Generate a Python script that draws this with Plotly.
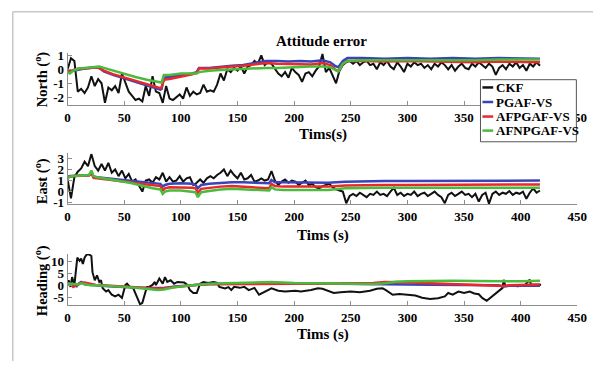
import plotly.graph_objects as go

# ---------------- data ----------------
series_names = ["CKF", "PGAF-VS", "AFPGAF-VS", "AFNPGAF-VS"]
series_colors = ["#111111", "#3a44b8", "#e8282a", "#4cba3c"]
x_ticks = [0, 50, 100, 150, 200, 250, 300, 350, 400, 450]
x_tick_text = ["0", "50", "100", "150", "200", "250", "300", "350", "400", "450"]

# CKF, sampled every 3 s
ckf_step = 3
north_ckf = [0.0, 0.8, 0.6, -1.6, -1.4, -1.7, -1.3, -0.5, -1.2, -0.7,
             -1.0, -2.4, -1.3, -1.5, -1.2, -1.7, -0.3, -1.0, -1.6, -1.9,
             -2.2, -2.1, -2.3, -1.2, -1.9, -0.5, -1.6, -1.7, -2.4, -1.2,
             -2.1, -2.2, -2.0, -1.8, -2.1, -1.3, -1.9, -1.6, -1.8, -1.7,
             -1.1, -1.6, -1.5, -1.6, -1.1, -0.3, -0.8, 0.0, -0.2, 0.1,
             -0.1, 0.2, -0.3, 0.2, 0.3, 0.6, 0.4, 1.0, 0.3, 0.5,
             0.4, 0.0, -0.3, -0.5, -0.2, -0.6, 0.1, -0.2, -0.4, -0.9,
             -0.3, -0.2, -0.5, -0.1, 0.2, 1.1, -0.2, 0.1, -0.4, -1.0,
             -0.1, 0.3, 0.5, 0.6, 0.4, 0.6, 0.3, 0.5, 0.6, 0.3,
             0.4, 0.0, 0.5, 0.3, 0.6, 0.2, 0.0, 0.5, 0.2, -0.2,
             0.4, 0.2, 0.5, 0.3, 0.4, 0.1, 0.3, 0.0, 0.4, 0.2,
             0.5, 0.3, 0.0, 0.3, -0.1, 0.2, 0.4, 0.1, 0.0, 0.4,
             0.2, 0.5, 0.3, 0.1, 0.4, 0.2, -0.4, 0.1, 0.3, 0.0,
             0.4, 0.2, 0.5, 0.1, 0.3, -0.1, 0.4, 0.2, 0.5, 0.25]
east_ckf = [1.1, -0.6, 1.3, 1.8, 2.1, 2.7, 2.3, 3.4, 2.3, 1.9,
            2.5, 1.9, 2.6, 1.7, 2.0, 1.4, 1.9, 1.2, 1.6, 0.9,
            1.1, 0.5, 0.0, 1.0, 1.1, 0.8, 1.3, 1.1, 1.7, 0.9,
            1.3, 0.9, 1.0, 1.4, 0.9, 1.2, 1.3, 0.6, 0.8, 1.1,
            0.8, 1.2, 1.4, 1.2, 1.5, 1.7, 2.0, 1.4, 1.9, 1.5,
            1.2, 1.7, 1.1, 1.2, 1.5, 0.9, 1.0, 1.2, 1.0, 1.1,
            1.85, 1.0, 0.6, 0.9, 1.1, 0.8, 1.0, 0.9, 0.6, 0.8,
            1.0, 0.6, 0.7, 0.4, 0.3, 0.5, 0.6, 0.7, 0.4, 0.2,
            0.1, 0.0, -1.05, -0.4, -0.2, -0.4, -0.1, -0.3, -0.5, -0.2,
            -0.3, 0.0, -0.3, -0.2, -0.4, 0.0, 0.35, -0.3, -0.1, -0.4,
            -0.2, -0.3, 0.0, -0.4, -0.2, -0.1, -0.4, -0.2, 0.0, -0.3,
            -0.5, -1.05, -0.3, -0.1, -0.4, -0.2, 0.0, -0.3, -0.2, -0.5,
            -0.2, -0.9, -0.3, -0.1, -1.1, -0.2, 0.0, -0.3, -0.1, -0.2,
            0.05, -0.3, -0.1, -0.2, 0.0, -0.65, -0.1, 0.3, -0.1, 0.1]

# CKF heading, irregular time stamps
heading_ckf_t = [0, 1, 2.6, 4, 6, 7, 8.6, 10.6, 12, 13.5, 15, 17, 19, 21, 22, 24, 26, 28,
                 29.5, 31, 34, 36, 39, 42, 45, 48, 51, 52.5, 55, 58, 61, 64, 66, 68, 70,
                 72, 75, 77, 78, 81, 84, 86, 88, 91, 94, 97, 100, 103, 106, 108, 111,
                 114, 117, 120, 124, 129, 132, 134, 139, 142, 144.5, 147, 152, 156, 160,
                 165, 169, 172, 176, 180, 186, 192, 201, 206, 215, 221, 225, 229, 235,
                 241, 250, 258, 267, 273, 278, 281, 287, 293, 298, 307, 313, 320, 327,
                 333, 336, 340, 345, 350, 355, 359, 363, 366, 370, 375, 381, 384, 385,
                 386.5, 392, 398, 404, 408, 409, 415, 418]
heading_ckf = [0.2, 2.2, -0.5, 3.5, 0.2, 3.7, 11.4, 10.1, 11.0, 8.8, 11.4, 12.8, 12.7, 12.1,
               5.5, 2.2, 4.2, 1.5, 2.2, -1.1, -2.4, -1.8, -3.7, -4.4, -3.7, -5.0, 0.2, 0.8,
               -0.5, -1.1, -4.4, -7.6, -7.0, -3.7, -0.5, -0.5, 0.3, 1.5, 0.2, 2.9, 0.8, 3.5,
               1.5, 2.2, 0.8, 1.5, 1.5, 1.3, 0.2, -1.8, -3.0, -3.0, 0.8, 1.5, 1.1, 1.5,
               1.1, -0.5, -1.1, -0.6, -1.8, -0.5, -0.9, -0.5, -1.8, -0.9, -3.7, -3.0, -1.8,
               -1.1, -2.1, -2.4, -2.1, -2.4, -1.8, -1.1, -1.3, -2.1, -3.0, -2.7, -2.4, -2.7,
               -2.1, -1.3, -1.1, -1.8, -3.7, -3.4, -3.7, -4.0, -4.9, -5.4, -5.1, -4.4, -3.0,
               -3.7, -2.4, -3.0, -2.4, -3.2, -3.5, -5.0, -6.2, -4.2, -2.2, -0.9, 2.4, -0.2,
               0.0, -0.2, 0.4, 2.4, 0.4, 0.2, 0.4]

# filtered estimates, North
north_t = [0, 2, 5, 10, 15, 20, 25, 28, 32, 40, 50, 60, 70, 78, 82, 83, 85, 90, 100,
           110, 114, 116, 125, 135, 145, 155, 165, 175, 185, 195, 205, 215, 225, 232,
           236, 239, 243, 247, 260, 280, 300, 320, 340, 360, 380, 400, 417]
north_pgaf = [0.0, -0.2, -0.1, 0.0, 0.05, 0.1, 0.15, 0.1, -0.15, -0.4, -0.65, -0.9, -1.15,
              -1.3, -1.45, -1.4, -0.6, -0.55, -0.45, -0.3, -0.2, 0.1, 0.1, 0.2, 0.25, 0.3,
              0.45, 0.6, 0.6, 0.55, 0.6, 0.55, 0.65, 0.5, 0.25, 0.15, 0.6, 0.8, 0.8, 0.75,
              0.8, 0.75, 0.8, 0.75, 0.8, 0.8, 0.75]
north_afpgaf = [0.0, -0.1, -0.05, 0.05, 0.05, 0.1, 0.15, 0.1, -0.1, -0.35, -0.6, -0.85,
                -1.1, -1.25, -1.35, -1.3, -0.75, -0.7, -0.55, -0.35, -0.25, 0.05, 0.05,
                0.15, 0.2, 0.25, 0.35, 0.45, 0.4, 0.4, 0.4, 0.35, 0.45, 0.3, 0.0, -0.15,
                0.4, 0.6, 0.6, 0.55, 0.6, 0.55, 0.55, 0.5, 0.55, 0.55, 0.5]
north_afnpgaf = [-0.2, -0.3, -0.1, 0.05, 0.1, 0.15, 0.2, 0.2, 0.1, -0.1, -0.35, -0.55,
                 -0.75, -0.9, -0.95, -0.95, -0.4, -0.4, -0.3, -0.3, -0.3, -0.2, -0.1,
                 -0.05, 0.0, 0.0, 0.05, 0.1, 0.1, 0.15, 0.15, 0.2, 0.2, 0.15, -0.05, -0.15,
                 0.4, 0.6, 0.65, 0.65, 0.6, 0.65, 0.6, 0.65, 0.7, 0.7, 0.7]

# filtered estimates, East
east_t = [0, 2, 5, 10, 15, 19, 21, 23, 26, 35, 45, 55, 65, 75, 82, 84, 86, 90, 100, 110,
          113, 115, 118, 125, 135, 145, 155, 165, 175, 178, 180, 183, 190, 200, 215, 230,
          245, 260, 280, 300, 320, 340, 360, 380, 400, 417]
east_pgaf = [1.3, 1.4, 1.4, 1.45, 1.5, 1.5, 1.7, 1.35, 1.3, 1.2, 1.1, 0.95, 0.85, 0.75,
             0.7, 0.45, 0.6, 0.7, 0.75, 0.7, 0.6, 0.3, 0.6, 0.7, 0.8, 0.85, 0.85, 0.8,
             0.8, 0.75, 1.05, 0.85, 0.85, 0.85, 0.8, 0.8, 0.9, 0.95, 0.95, 0.95, 0.95,
             0.95, 0.95, 0.95, 0.95, 1.0]
east_afpgaf = [1.25, 1.35, 1.4, 1.4, 1.45, 1.45, 1.65, 1.25, 1.2, 1.1, 1.0, 0.85, 0.7,
               0.55, 0.5, 0.1, 0.3, 0.4, 0.4, 0.35, 0.3, -0.1, 0.25, 0.35, 0.45, 0.5,
               0.45, 0.4, 0.35, 0.3, 0.7, 0.5, 0.45, 0.45, 0.4, 0.45, 0.55, 0.6, 0.6,
               0.6, 0.6, 0.6, 0.6, 0.65, 0.65, 0.65]
east_afnpgaf = [1.2, 1.35, 1.4, 1.45, 1.5, 1.5, 1.9, 1.4, 1.3, 1.15, 1.0, 0.8, 0.55, 0.3,
                0.2, -0.2, 0.0, 0.1, 0.1, 0.0, -0.05, -0.5, -0.05, 0.05, 0.2, 0.25, 0.2,
                0.2, 0.15, 0.1, 0.4, 0.2, 0.15, 0.15, 0.1, 0.15, 0.3, 0.35, 0.35, 0.35,
                0.35, 0.35, 0.35, 0.35, 0.35, 0.35]

# filtered estimates, Heading
heading_t = [0, 3, 5, 8, 10, 12, 15, 20, 25, 30, 40, 50, 60, 70, 80, 85, 95, 105, 115,
             125, 140, 160, 180, 200, 220, 240, 260, 270, 280, 290, 300, 320, 340, 360,
             380, 385, 390, 400, 410, 417]
heading_pgaf = [0.5, 0.8, 0.2, -0.3, 0.9, 1.5, 0.6, 0.5, 0.3, 0.0, -0.3, -0.4, -0.8, -1.0,
                -1.2, -1.0, -0.3, 0.0, 0.5, 0.7, 0.8, 0.9, 1.0, 0.9, 0.9, 0.8, 0.8, 0.8,
                0.7, 0.6, 0.5, 0.4, 0.3, 0.2, 0.2, -0.3, 0.0, 0.0, 0.1, 0.0]
heading_afpgaf = [1.0, 0.5, -0.5, 0.3, 1.0, 1.2, 1.3, 0.8, 0.3, 0.2, 0.0, -0.3, -0.6, -1.0,
                  -1.3, -1.1, -0.5, 0.0, 0.4, 0.6, 0.7, 0.8, 0.9, 0.8, 0.8, 0.8, 0.9, 1.1,
                  1.5, 1.5, 1.4, 1.0, 0.7, 0.4, 0.2, -0.1, 0.2, 0.3, 0.4, 0.5]
heading_afnpgaf = [0.9, 0.8, 0.6, 0.5, 0.5, 1.0, 0.8, 0.2, 0.2, 0.1, -0.3, -0.5, -0.9,
                   -1.2, -1.8, -1.6, -0.6, 0.0, 0.4, 0.8, 1.0, 1.3, 1.5, 1.1, 0.9, 0.8, 0.6,
                   0.7, 1.0, 1.6, 1.8, 2.0, 2.0, 1.9, 1.8, 1.7, 1.7, 1.8, 1.9, 2.0]

# ---------------- figure ----------------
W, H = 603, 367
FONT = "Liberation Serif"


def px_x(p):
    return p / W


def px_y(p):
    return 1 - p / H


ckf_t_north = [ckf_step * i for i in range(len(north_ckf))]
ckf_t_east = [ckf_step * i for i in range(len(east_ckf))]

panels = [
    # (ckf t, ckf v, filter t, [pgaf, afpgaf, afnpgaf], y range, y ticks, top px, bottom px)
    (ckf_t_north, north_ckf, north_t, [north_pgaf, north_afpgaf, north_afnpgaf],
     [-2.55, 1.2], [-2, -1, 0, 1], 49, 103),
    (ckf_t_east, east_ckf, east_t, [east_pgaf, east_afpgaf, east_afnpgaf],
     [-1.15, 3.45], [-1, 0, 1, 2, 3], 153, 205.5),
    (heading_ckf_t, heading_ckf, heading_t, [heading_pgaf, heading_afpgaf, heading_afnpgaf],
     [-7.9, 12.9], [-5, 0, 5, 10], 256.7, 309.3),
]

fig = go.Figure()
layout = {}
axis_gray = "#8e8e8e"
tickfont = dict(family=FONT, size=13, color="black", weight="bold")

for i, (ct, cv, ft, fvals, yr, yt, top, bot) in enumerate(panels):
    k = "" if i == 0 else str(i + 1)
    xa, ya = "x" + k, "y" + k
    fig.add_trace(go.Scatter(x=ct, y=cv, mode="lines", name=series_names[0],
                             line=dict(color=series_colors[0], width=2),
                             xaxis=xa, yaxis=ya))
    for j, vals in enumerate(fvals):
        fig.add_trace(go.Scatter(x=ft, y=vals, mode="lines", name=series_names[j + 1],
                                 line=dict(color=series_colors[j + 1], width=2.5),
                                 xaxis=xa, yaxis=ya))
    # the legend box sits over the top panel's "400" label
    xt = list(x_tick_text)
    if i == 0:
        xt[8] = ""
    layout["xaxis" + k] = dict(
        domain=[px_x(66), px_x(587)], range=[0, 450], tickvals=x_ticks, ticktext=xt,
        anchor=ya, showline=True, linecolor=axis_gray, linewidth=1,
        ticks="inside", ticklen=4, tickcolor=axis_gray, showgrid=False,
        zeroline=False, tickfont=tickfont, ticklabelstandoff=0)
    layout["yaxis" + k] = dict(
        domain=[px_y(bot), px_y(top)], range=yr, tickvals=yt,
        ticktext=[str(v) for v in yt],
        anchor=xa, showline=True, linecolor=axis_gray, linewidth=1,
        ticks="inside", ticklen=4, tickcolor=axis_gray, showgrid=False,
        zeroline=False, tickfont=tickfont, ticklabelstandoff=0)

annotations = []


def text(x, y, s, size=15, angle=0, xanchor="center"):
    annotations.append(dict(
        x=px_x(x), y=px_y(y), xref="paper", yref="paper", text=s, showarrow=False,
        xanchor=xanchor, yanchor="middle", textangle=angle,
        font=dict(family=FONT, size=size, color="black", weight="bold")))


text(326, 37, "Attitude error")
text(327, 133, "Tims(s)")
text(327, 238, "Tims (s)")
text(327, 340, "Tims (s)")
text(39.5, 77, "North (<sup>o</sup>)", size=14.5, angle=-90)
text(39.5, 182, "East (<sup>o</sup>)", size=14.5, angle=-90)
text(39.5, 284, "Heading (<sup>o</sup>)", size=14.5, angle=-90)

shapes = [
    # outer frame (top and left edges)
    dict(type="line", xref="paper", yref="paper", x0=px_x(10), x1=1, y0=px_y(7), y1=px_y(7),
         line=dict(color="#c8c8c8", width=1.5)),
    dict(type="line", xref="paper", yref="paper", x0=px_x(10), x1=px_x(10), y0=px_y(7), y1=0,
         line=dict(color="#c8c8c8", width=1.5)),
    # legend box
    dict(type="rect", xref="paper", yref="paper", x0=px_x(488), x1=px_x(586),
         y0=px_y(141), y1=px_y(77), fillcolor="white", line=dict(color="#555555", width=1),
         layer="above"),
]

legend_rows = [85, 100, 115, 129.5]
for name, color, yrow in zip(series_names, series_colors, legend_rows):
    shapes.append(dict(type="line", xref="paper", yref="paper", x0=px_x(490), x1=px_x(501),
                       y0=px_y(yrow), y1=px_y(yrow), line=dict(color=color, width=2.5),
                       layer="above"))
    text(502, yrow, name, size=13, xanchor="left")

fig.update_layout(
    width=W, height=H, margin=dict(l=0, r=0, t=0, b=0),
    paper_bgcolor="white", plot_bgcolor="white", showlegend=False,
    annotations=annotations, shapes=shapes, **layout)

fig.write_html("out.html")
